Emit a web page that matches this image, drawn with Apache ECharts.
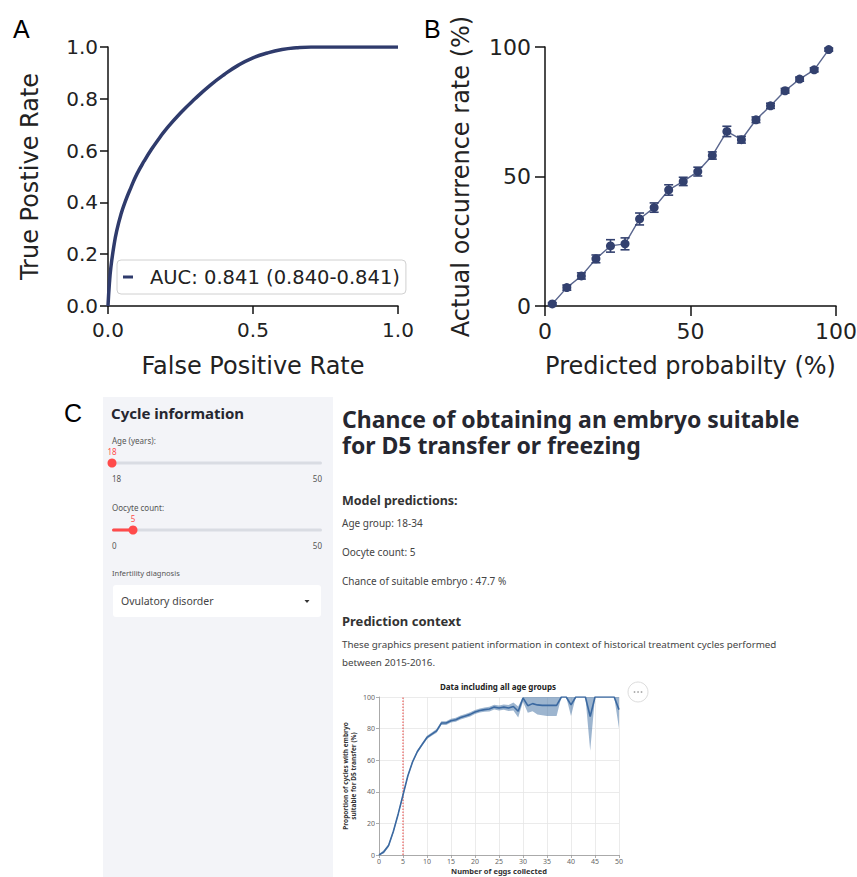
<!DOCTYPE html>
<html><head><meta charset="utf-8">
<script src="https://cdn.jsdelivr.net/npm/echarts@6/dist/echarts.min.js"></script>
<style>html,body{margin:0;padding:0;background:#fff}#c{width:857px;height:877px}</style>
</head><body><div id="c"></div>
<script>
// ---------- Panel A: ROC curve ----------
const rocFpr = [0, 0.005, 0.01, 0.02, 0.03, 0.045, 0.06, 0.08, 0.1, 0.125, 0.15, 0.175, 0.2, 0.25, 0.3, 0.35, 0.4, 0.45, 0.5, 0.55, 0.6, 0.65, 0.7, 0.8, 0.9, 1.0];
const rocTpr = [0, 0.09, 0.15, 0.23, 0.29, 0.355, 0.405, 0.46, 0.51, 0.56, 0.605, 0.645, 0.682, 0.745, 0.80, 0.85, 0.893, 0.93, 0.958, 0.977, 0.99, 0.997, 1.0, 1.0, 1.0, 1.0];
const rocLegend = 'AUC: 0.841 (0.840-0.841)';

// ---------- Panel B: calibration ----------
const calibPred = [2.5, 7.5, 12.5, 17.5, 22.5, 27.5, 32.5, 37.5, 42.5, 47.5, 52.5, 57.5, 62.5, 67.5, 72.5, 77.5, 82.5, 87.5, 92.5, 97.5];
const calibActual = [0.8, 7.1, 11.6, 18.2, 23.2, 24.0, 33.6, 38.0, 44.8, 48.1, 51.9, 58.1, 67.4, 64.2, 71.9, 77.3, 83.1, 87.6, 91.2, 99.0];
const calibErr = [0.5, 1.0, 1.2, 1.5, 2.4, 2.3, 2.3, 1.8, 2.0, 1.6, 1.7, 1.4, 2.0, 1.3, 1.1, 1.0, 0.9, 0.8, 0.8, 0.6];

// ---------- Panel C: historical data ----------
const eggCount = [0,1,2,3,4,5,6,7,8,9,10,11,12,13,14,15,16,17,18,19,20,21,22,23,24,25,26,27,28,29,30,31,32,33,34,35,36,37,38,39,40,41,42,43,44,45,46,47,48,49,50];
const eggMean  = [0,2,6,15,26,38,50,59,65.5,70,74.4,76.5,78.6,83.5,83.5,85,85.6,87,88,89,90.5,91.5,92,92.4,93.6,93,93.6,93,94,91,99.4,94.5,95.8,95,94.7,94.7,94.7,94.7,100,100,95,100,100,100,87.7,100,100,100,100,100,92];
const eggLower = [0,1,5,14,25,37,49,58,64.5,69,73.4,75.5,77.4,82.3,82.3,83.8,84.4,85.7,86.7,87.7,89.2,90.2,90.6,90.9,92.1,91.4,91.9,91.1,91.5,87,97,90,91,89,88.5,88,88,88,100,100,88,100,100,100,66,100,100,100,100,100,80];
const eggUpper = [0.5,3,7,16,27,39,51,60,66.5,71,75.4,77.5,79.8,84.7,84.7,86.2,86.8,88.3,89.3,90.3,91.8,92.8,93.4,93.9,95.1,94.6,95.3,94.9,96.5,94,100,100,100,100,100,100,100,100,100,100,100,100,100,100,100,100,100,100,100,100,100];
const patientEggs = 5;

// ---------- Panel C: app texts ----------
const appTitle = ['Chance of obtaining an embryo suitable', 'for D5 transfer or freezing'];
const predictionLines = ['Age group: 18-34', 'Oocyte count: 5', 'Chance of suitable embryo : 47.7 %'];
const contextLines = ['These graphics present patient information in context of historical treatment cycles performed', 'between 2015-2016.'];
const sliderAge = {label: 'Age (years):', min: 18, max: 50, value: 18};
const sliderOocyte = {label: 'Oocyte count:', min: 0, max: 50, value: 5};
const diagnosis = 'Ovulatory disorder';

const chart = echarts.init(document.getElementById('c'), null, {renderer: 'svg'});

const MPL = "'DejaVu Sans', sans-serif";
const UI = "'Noto Sans', sans-serif";
const NAVY = '#2f3b6c';

function mplAxis(extra) {
  return Object.assign({
    type: 'value',
    axisLine: {show: true, lineStyle: {color: '#111', width: 1.5}},
    axisTick: {show: true, length: 8, lineStyle: {color: '#111', width: 1.5}},
    splitLine: {show: false},
    nameLocation: 'middle',
    nameTextStyle: {fontFamily: MPL, fontSize: 24, color: '#222'}
  }, extra);
}

function slider(s, trackY) {
  const x0 = 112, x1 = 322;
  const tx = x0 + (s.value - s.min) / (s.max - s.min) * (x1 - x0);
  return [
    {type: 'text', style: {text: s.label, x: 112, y: trackY - 23, font: '8px ' + UI, fill: '#555', verticalAlign: 'middle'}},
    {type: 'rect', shape: {x: x0, y: trackY - 1.5, width: x1 - x0, height: 3, r: 1.5}, style: {fill: '#d9dce3'}},
    {type: 'rect', shape: {x: x0, y: trackY - 1.5, width: Math.max(tx - x0, 0.1), height: 3, r: 1.5}, style: {fill: '#ff4b4b'}},
    {type: 'circle', shape: {cx: tx, cy: trackY, r: 4.5}, style: {fill: '#ff4b4b'}},
    {type: 'text', style: {text: String(s.value), x: tx, y: trackY - 12, font: '8px ' + UI, fill: '#ff4b4b', align: 'center', verticalAlign: 'middle'}},
    {type: 'text', style: {text: String(s.min), x: x0, y: trackY + 15, font: '8px ' + UI, fill: '#555', verticalAlign: 'middle'}},
    {type: 'text', style: {text: String(s.max), x: x1, y: trackY + 15, font: '8px ' + UI, fill: '#555', align: 'right', verticalAlign: 'middle'}}
  ];
}

const graphics = [
  {type: 'text', style: {text: 'A', x: 13, y: 29, font: '25px "Liberation Sans", Arial, sans-serif', fill: '#000', verticalAlign: 'middle'}},
  {type: 'text', style: {text: 'B', x: 424, y: 29, font: '25px "Liberation Sans", Arial, sans-serif', fill: '#000', verticalAlign: 'middle'}},
  {type: 'text', style: {text: 'C', x: 64, y: 413, font: '25px "Liberation Sans", Arial, sans-serif', fill: '#000', verticalAlign: 'middle'}},
  {type: 'rect', z: -10, shape: {x: 103, y: 397, width: 230, height: 480}, style: {fill: '#f3f4f8'}},
  {type: 'text', style: {text: 'Cycle information', x: 111, y: 413, font: 'bold 15px ' + UI, fill: '#262730', verticalAlign: 'middle'}},
  ...slider(sliderAge, 463),
  ...slider(sliderOocyte, 530),
  {type: 'text', style: {text: 'Infertility diagnosis', x: 112, y: 573, font: '7.5px ' + UI, fill: '#555', verticalAlign: 'middle'}},
  {type: 'rect', shape: {x: 113, y: 585, width: 208, height: 32, r: 3}, style: {fill: '#ffffff'}},
  {type: 'text', style: {text: diagnosis, x: 121, y: 601, font: '10.5px ' + UI, fill: '#444', verticalAlign: 'middle'}},
  {type: 'polygon', shape: {points: [[304.5, 600], [309.5, 600], [307, 603]]}, style: {fill: '#333'}},
  {type: 'text', style: {text: appTitle.join('\n'), x: 342, y: 406, font: 'bold 23px ' + UI, lineHeight: 26, fill: '#262730', verticalAlign: 'top'}},
  {type: 'text', style: {text: 'Model predictions:', x: 342, y: 500, font: 'bold 12.5px ' + UI, fill: '#333', verticalAlign: 'middle'}},
  ...predictionLines.map((t, i) => ({type: 'text', style: {text: t, x: 342, y: 523 + i * 29, font: '10px ' + UI, fill: '#444', verticalAlign: 'middle'}})),
  {type: 'text', style: {text: 'Prediction context', x: 342, y: 621, font: 'bold 13px ' + UI, fill: '#333', verticalAlign: 'middle'}},
  ...contextLines.map((t, i) => ({type: 'text', style: {text: t, x: 342, y: 644 + i * 18, font: '9.8px ' + UI, fill: '#444', verticalAlign: 'middle'}})),
  {type: 'text', style: {text: 'Data including all age groups', x: 498, y: 686, font: 'bold 8px ' + UI, fill: '#222', align: 'center', verticalAlign: 'middle'}},
  {type: 'circle', shape: {cx: 638, cy: 692, r: 10}, style: {fill: '#fff', stroke: '#dddddd', lineWidth: 1}},
  {type: 'circle', shape: {cx: 634.5, cy: 692, r: 0.9}, style: {fill: '#aaa'}},
  {type: 'circle', shape: {cx: 638, cy: 692, r: 0.9}, style: {fill: '#aaa'}},
  {type: 'circle', shape: {cx: 641.5, cy: 692, r: 0.9}, style: {fill: '#aaa'}}
];

const option = {
  animation: false,
  backgroundColor: '#ffffff',
  grid: [
    {left: 108, top: 47, width: 290, height: 259, outerBoundsMode: 'none'},
    {left: 545, top: 47, width: 291, height: 259, outerBoundsMode: 'none'},
    {left: 379, top: 697, width: 240, height: 158, outerBoundsMode: 'none'}
  ],
  legend: {
    data: ['roc'],
    formatter: () => rocLegend,
    left: 117, top: 260,
    icon: 'rect', itemWidth: 10, itemHeight: 3,
    padding: [7, 6, 7, 6],
    backgroundColor: '#ffffff',
    borderColor: '#d0d0d0', borderWidth: 1, borderRadius: 4,
    textStyle: {fontFamily: MPL, fontSize: 19.5, color: '#222', padding: [0, 0, 0, 12]}
  },
  xAxis: [
    mplAxis({gridIndex: 0, min: 0, max: 1, interval: 0.5, name: 'False Positive Rate', nameGap: 48,
      axisLabel: {fontFamily: MPL, fontSize: 20, color: '#222', margin: 14, formatter: v => v.toFixed(1)}}),
    mplAxis({gridIndex: 1, min: 0, max: 100, interval: 50, name: 'Predicted probabilty (%)', nameGap: 48,
      axisTick: {show: true, length: 10, lineStyle: {color: '#111', width: 1.5}},
      axisLabel: {fontFamily: MPL, fontSize: 22, color: '#222', margin: 14}}),
    {type: 'value', gridIndex: 2, min: 0, max: 50, interval: 5,
      axisLine: {show: true, lineStyle: {color: '#999', width: 0.8}},
      axisTick: {show: true, length: 3, lineStyle: {color: '#999', width: 0.8}},
      axisLabel: {fontFamily: UI, fontSize: 7, color: '#666', margin: 3},
      splitLine: {show: true, lineStyle: {color: '#e6e6e6', width: 0.8}},
      name: 'Number of eggs collected', nameLocation: 'middle', nameGap: 12,
      nameTextStyle: {fontFamily: UI, fontSize: 7.5, fontWeight: 'bold', color: '#333'}}
  ],
  yAxis: [
    mplAxis({gridIndex: 0, min: 0, max: 1, interval: 0.2, name: 'True Postive Rate', nameGap: 66,
      axisLabel: {fontFamily: MPL, fontSize: 20, color: '#222', margin: 10, formatter: v => v.toFixed(1)}}),
    mplAxis({gridIndex: 1, min: 0, max: 100, interval: 50, name: 'Actual occurrence rate (%)', nameGap: 72,
      axisTick: {show: true, length: 10, lineStyle: {color: '#111', width: 1.5}},
      axisLabel: {fontFamily: MPL, fontSize: 22, color: '#222', margin: 14}}),
    {type: 'value', gridIndex: 2, min: 0, max: 100, interval: 20,
      axisLine: {show: true, lineStyle: {color: '#999', width: 0.8}},
      axisTick: {show: true, length: 3, lineStyle: {color: '#999', width: 0.8}},
      axisLabel: {fontFamily: UI, fontSize: 7, color: '#666', margin: 4},
      splitLine: {show: true, lineStyle: {color: '#e6e6e6', width: 0.8}},
      name: 'Proportion of cycles with embryo\nsuitable for D5 transfer (%)', nameLocation: 'middle', nameGap: 22,
      nameTextStyle: {fontFamily: UI, fontSize: 6.5, fontWeight: 'bold', color: '#333', lineHeight: 8}}
  ],
  series: [
    {name: 'roc', type: 'line', xAxisIndex: 0, yAxisIndex: 0, showSymbol: false, symbol: 'none',
      smooth: 0.5,
      data: rocFpr.map((x, i) => [x, rocTpr[i]]),
      itemStyle: {color: NAVY},
      lineStyle: {color: NAVY, width: 3.5}},
    {name: 'calib', type: 'line', xAxisIndex: 1, yAxisIndex: 1, symbol: 'circle', symbolSize: 9,
      data: calibPred.map((x, i) => [x, calibActual[i]]),
      itemStyle: {color: '#33416f'},
      lineStyle: {color: '#5a668e', width: 1.4}, z: 3},
    {name: 'calibErr', type: 'custom', xAxisIndex: 1, yAxisIndex: 1, z: 4,
      data: calibPred.map((x, i) => [x, calibActual[i] - calibErr[i], calibActual[i] + calibErr[i]]),
      renderItem: (params, api) => {
        const lo = api.coord([api.value(0), api.value(1)]);
        const hi = api.coord([api.value(0), api.value(2)]);
        const w = 4.5;
        const st = {stroke: '#33416f', lineWidth: 1.6};
        return {type: 'group', children: [
          {type: 'line', shape: {x1: lo[0], y1: lo[1], x2: hi[0], y2: hi[1]}, style: st},
          {type: 'line', shape: {x1: lo[0] - w, y1: lo[1], x2: lo[0] + w, y2: lo[1]}, style: st},
          {type: 'line', shape: {x1: hi[0] - w, y1: hi[1], x2: hi[0] + w, y2: hi[1]}, style: st}
        ]};
      }},
    {name: 'band', type: 'custom', xAxisIndex: 2, yAxisIndex: 2, z: 1,
      data: [[eggCount[0], eggLower[0]]],
      renderItem: (params, api) => {
        const top = eggCount.map((x, i) => api.coord([x, eggUpper[i]]));
        const bot = eggCount.map((x, i) => api.coord([x, eggLower[i]])).reverse();
        return {type: 'polygon', shape: {points: top.concat(bot)},
          style: {fill: 'rgba(76,120,168,0.55)'}};
      }},
    {name: 'patient', type: 'line', xAxisIndex: 2, yAxisIndex: 2, symbol: 'none', z: 2,
      data: [[patientEggs, 0], [patientEggs, 100]],
      lineStyle: {color: '#e8403c', type: [1.5, 1.5], width: 1}},
    {name: 'mean', type: 'line', xAxisIndex: 2, yAxisIndex: 2, symbol: 'none', z: 3,
      data: eggCount.map((x, i) => [x, eggMean[i]]),
      lineStyle: {color: '#3b69a1', width: 1.6}}
  ],
  graphic: graphics
};
chart.setOption(option);
</script>
</body></html>
